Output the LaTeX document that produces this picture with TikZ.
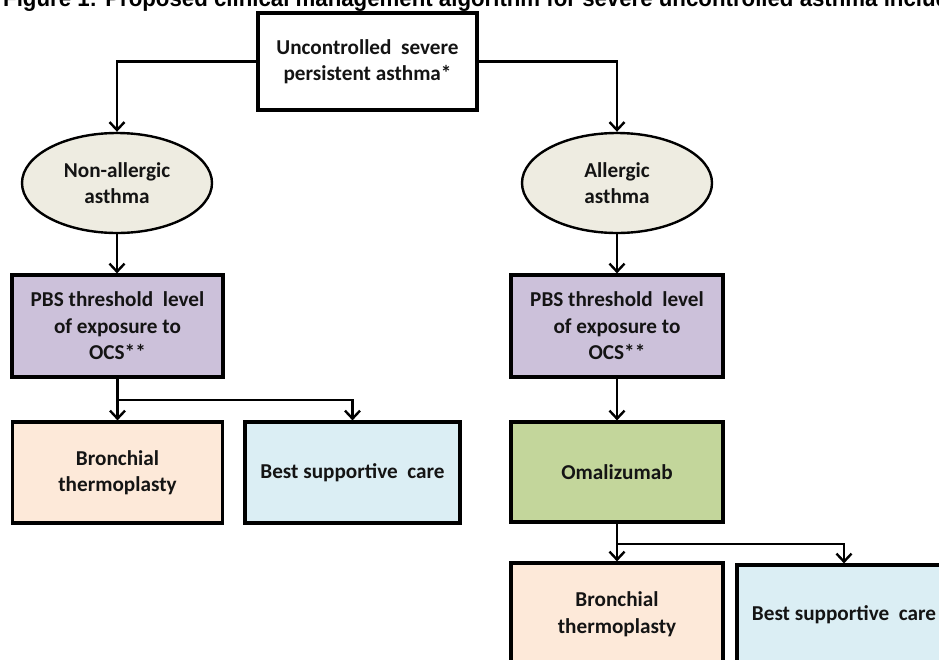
\documentclass[tikz,border=0pt]{standalone}
\usepackage{fontspec}
\setmainfont{Carlito}
\newfontfamily\titlefont{Liberation Sans}
\usetikzlibrary{arrows.meta,shapes.geometric}
\definecolor{ellfill}{HTML}{EEECE1}
\definecolor{pbsfill}{HTML}{CCC1DA}
\definecolor{brfill}{HTML}{FDE9D9}
\definecolor{bscfill}{HTML}{DBEEF4}
\definecolor{omafill}{HTML}{C3D69B}
\definecolor{txt}{HTML}{141414}
\tikzset{
  boxtext/.style={align=center, text=txt, font=\fontsize{21.2}{26.5}\selectfont\bfseries},
  box/.style={boxtext, draw=black, line width=3.2pt, rectangle, inner sep=0pt},
  ell/.style={boxtext, draw=black, line width=2.4pt, ellipse, inner sep=0pt,
    minimum width=190pt, minimum height=100pt, fill=ellfill},
  conn/.style={line width=2.4pt, -{Straight Barb[length=8pt,width=15pt]}},
  plain/.style={line width=2.4pt},
}
\begin{document}
\begin{tikzpicture}[x=1pt,y=-1pt]
\useasboundingbox (0,0) rectangle (939,659);
\clip (0,0) rectangle (939,659);
\fill[white] (0,0) rectangle (939,659);

\node[anchor=base west, inner sep=0pt] (title) at (3,6)
  {\resizebox{946pt}{17pt}{\titlefont\bfseries Figure 1: Proposed clinical management algorithm for severe uncontrolled asthma includ}};

\node[box, fill=white, minimum width=219pt, minimum height=97pt] (top) at (367.5,61.5)
  {Uncontrolled~ severe\\persistent asthma*};

\node[ell] (nonall) at (117,183) {Non-allergic\\asthma};
\node[ell] (all) at (617,183) {Allergic\\asthma};

\node[box, fill=pbsfill, minimum width=211pt, minimum height=102pt] (pbsL) at (117.5,326)
  {PBS threshold~ level\\of exposure to\\OCS**};
\node[box, fill=pbsfill, minimum width=212pt, minimum height=102pt] (pbsR) at (617,326)
  {PBS threshold~ level\\of exposure to\\OCS**};

\node[box, fill=brfill, minimum width=210pt, minimum height=101pt] (brL) at (117.5,472.5)
  {Bronchial\\thermoplasty};
\node[box, fill=bscfill, minimum width=215pt, minimum height=101pt] (bscL) at (352.5,472.5)
  {Best supportive~ care};

\node[box, fill=omafill, minimum width=212pt, minimum height=100pt] (oma) at (617,472)
  {Omalizumab};

\node[box, fill=brfill, minimum width=212pt, minimum height=102pt] (brR) at (617,614)
  {Bronchial\\thermoplasty};
\node[box, fill=bscfill, minimum width=214pt, minimum height=100pt] (bscR) at (844,615)
  {Best supportive~ care};

\coordinate (jL) at (117.5,400);
\coordinate (jR) at (617,544);

\draw[conn] (top.west) -| (nonall.north);
\draw[conn] (top.east) -| (all.north);
\draw[conn] (nonall.south) -- (nonall.south |- pbsL.north);
\draw[conn] (all.south) -- (pbsR.north);
\draw[plain] (pbsL.south) -- (jL);
\draw[conn] (jL) -- (brL.north);
\draw[conn] (jL) -| (bscL.north);
\draw[conn] (pbsR.south) -- (oma.north);
\draw[plain] (oma.south) -- (jR);
\draw[conn] (jR) -- (brR.north);
\draw[conn] (jR) -| (bscR.north);
\end{tikzpicture}
\end{document}
